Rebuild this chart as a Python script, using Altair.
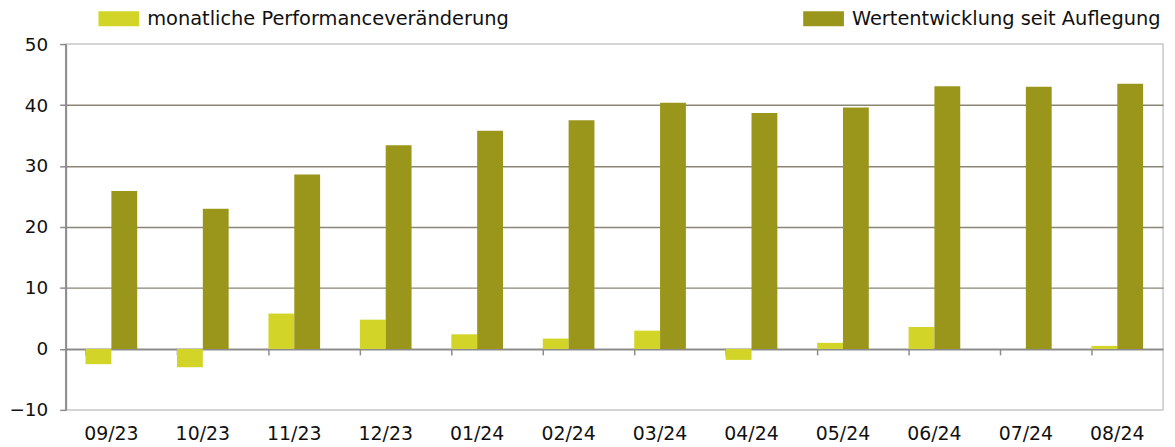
import altair as alt
import pandas as pd

months = ["09/23", "10/23", "11/23", "12/23", "01/24", "02/24",
          "03/24", "04/24", "05/24", "06/24", "07/24", "08/24"]
monthly = [-2.5, -3.0, 5.8, 4.8, 2.4, 1.7, 3.0, -1.8, 1.0, 3.6, 0.0, 0.5]
cumulative = [25.9, 23.0, 28.6, 33.4, 35.8, 37.5, 40.4, 38.7, 39.6, 43.1, 43.0, 43.5]
series_names = ["monatliche Performanceveränderung", "Wertentwicklung seit Auflegung"]
colors = ["#d2d528", "#9a961b"]

rows = []
for m, a, b in zip(months, monthly, cumulative):
    rows.append({"month": m, "series": series_names[0], "value": a})
    rows.append({"month": m, "series": series_names[1], "value": b})
df = pd.DataFrame(rows)

FONT = "DejaVu Sans"
PLOT_W, PLOT_H = 1104, 368
zero_offset = -PLOT_H * 10 / 60

rect_path = "M-1,-0.366H1V0.366H-1Z"

y_enc = alt.Y(
    "value:Q",
    scale=alt.Scale(domain=[-10, 50], nice=False, zero=False),
    axis=alt.Axis(
        values=[-10, 0, 10, 20, 30, 40, 50], title=None,
        labelFont=FONT, labelFontSize=18.5, labelColor="#111111",
        labelPadding=12, tickSize=6, tickWidth=1.5, tickColor="#8c8c8c",
        domainColor="#8c8c8c", domainWidth=2,
        gridColor={"condition": {"test": "datum.value === 0 || datum.value === 50 || datum.value === -10",
                                 "value": "transparent"},
                   "value": "#8b8575"},
        gridWidth=1.5,
    ),
)

xoff = alt.XOffset("series:N", sort=series_names,
                   scale=alt.Scale(domain=series_names, paddingInner=0, paddingOuter=0))


def xenc(axis):
    return alt.X("month:N", sort=months, title=None,
                 scale=alt.Scale(paddingInner=0.435, paddingOuter=0.2175),
                 axis=axis)


def legend(x):
    return alt.Legend(orient="none", legendX=x, legendY=-46, title=None, padding=0,
                      symbolType=rect_path, symbolSize=1681, symbolStrokeWidth=0,
                      symbolOpacity=1, labelFont=FONT, labelFontSize=19.5,
                      labelColor="#111111", labelOffset=8, labelLimit=600)


layer_a = alt.Chart(df).transform_filter(
    alt.datum.series == series_names[0]
).mark_bar().encode(
    x=xenc(alt.Axis(orient="bottom", domain=False, ticks=False, grid=False, labelAngle=0,
                    labelFont=FONT, labelFontSize=19, labelColor="#111111",
                    labelPadding=15)),
    xOffset=xoff,
    y=y_enc,
    color=alt.Color("series:N", scale=alt.Scale(domain=[series_names[0]], range=[colors[0]]),
                    legend=legend(33)),
)

layer_b = alt.Chart(df).transform_filter(
    alt.datum.series == series_names[1]
).mark_bar().encode(
    x=xenc(alt.Axis(orient="bottom", labels=False, domain=True, ticks=True, grid=False,
                    offset=zero_offset, bandPosition=0,
                    domainColor="#8c8c8c", domainWidth=2,
                    tickColor="#8c8c8c", tickWidth=1.5, tickSize=6)),
    xOffset=xoff,
    y=y_enc,
    color=alt.Color("series:N", scale=alt.Scale(domain=[series_names[1]], range=[colors[1]]),
                    legend=legend(742)),
)

chart = alt.layer(layer_a, layer_b).resolve_scale(
    color="independent"
).resolve_axis(
    x="independent"
).properties(
    width=PLOT_W, height=PLOT_H,
    autosize=alt.AutoSizeParams(type="none"),
    padding={"left": 58, "top": 35, "right": 4, "bottom": 34},
    background="white",
).configure_view(
    stroke="#c8c8c8", strokeWidth=1.5
)

chart.save("out.html", embed_options={"renderer": "svg", "actions": False})
